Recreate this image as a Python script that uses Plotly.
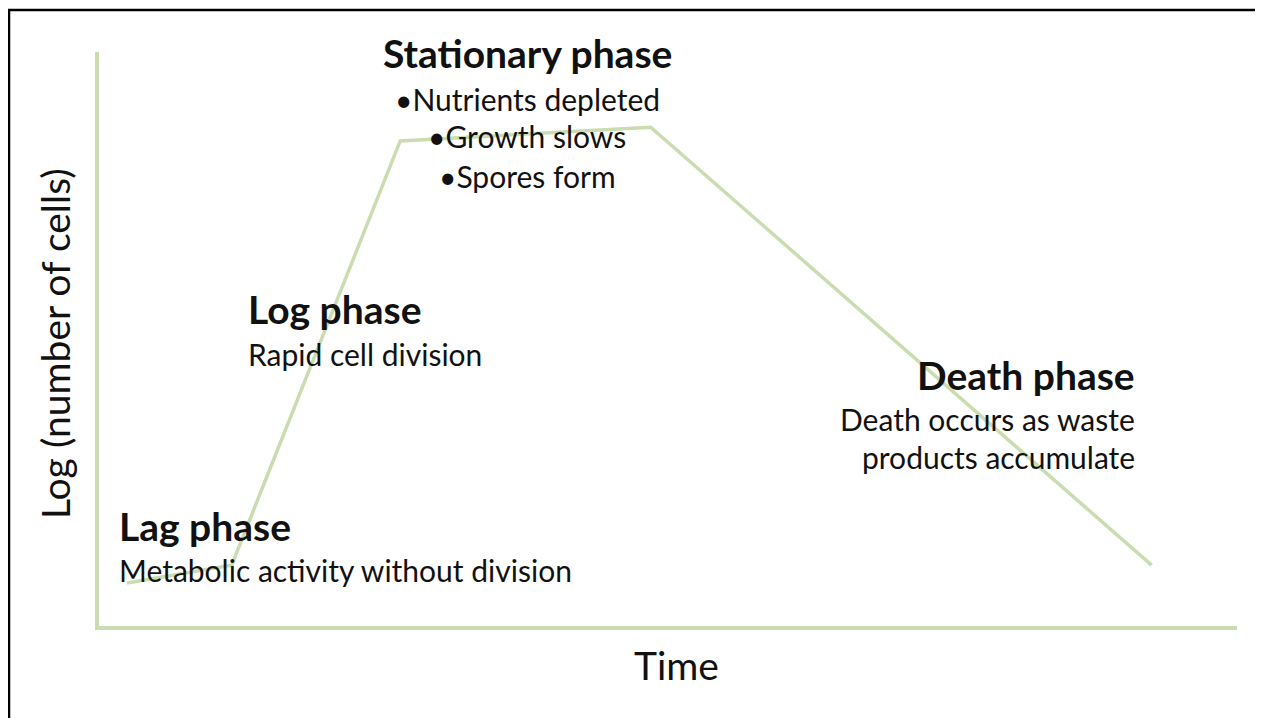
import plotly.graph_objects as go

# Growth curve (abstract units: time 0-100, log cells 0-100)
time_pts = [2.5, 11.7, 26.5, 48.5, 92.5]
log_cells = [7.5, 10.6, 84.5, 86.9, 10.6]

phase_titles = ["Lag phase", "Log phase", "Stationary phase", "Death phase"]
lag_desc = ["Metabolic activity without division"]
log_desc = ["Rapid cell division"]
stat_desc = ["•Nutrients depleted", "•Growth slows", "•Spores form"]
death_desc = ["Death occurs as waste", "products accumulate"]

OFF = 8  # page body margin
W, H = 1263 - OFF, 718 - OFF
GREEN = "#cadcb0"
FONT = "Lato, 'Open Sans', sans-serif"
TXT = "#111111"

def px(x):
    return (x - OFF) / W

def py(y):
    return 1 - (y - OFF) / H

fig = go.Figure()
fig.add_trace(go.Scatter(x=time_pts, y=log_cells, mode="lines",
                         line=dict(color=GREEN, width=3.5), hoverinfo="skip",
                         showlegend=False))

fig.update_layout(
    width=W, height=H,
    margin=dict(l=0, r=0, t=0, b=0),
    paper_bgcolor="white", plot_bgcolor="white",
    font=dict(family=FONT, color=TXT),
    xaxis=dict(domain=[px(98.5), px(1237)], range=[0, 100], showgrid=False,
               zeroline=False, showticklabels=False, ticks="",
               showline=True, linecolor=GREEN, linewidth=4, fixedrange=True),
    yaxis=dict(domain=[py(626), py(52)], range=[0, 100], showgrid=False,
               zeroline=False, showticklabels=False, ticks="",
               showline=True, linecolor=GREEN, linewidth=4, fixedrange=True),
)

# outer frame
fig.add_shape(type="rect", xref="paper", yref="paper",
              x0=px(9), x1=px(1261), y0=py(760), y1=py(10),
              line=dict(color="black", width=2.5), fillcolor="rgba(0,0,0,0)")

def ann(text, x, y, xanchor, size, bold=False):
    fig.add_annotation(text=f"<b>{text}</b>" if bold else text,
                       xref="paper", yref="paper", x=px(x), y=py(y),
                       xanchor=xanchor, yanchor="middle", showarrow=False,
                       font=dict(family=FONT, size=size, color=TXT))

TS, BS = 39, 30
# Stationary
ann(phase_titles[2], 527, 53, "center", TS, True)
for t, yy in zip(stat_desc, [99, 136, 176]):
    ann(t, 527, yy, "center", BS)
# Log
ann(phase_titles[1], 246, 309, "left", TS, True)
ann(log_desc[0], 246, 354, "left", BS)
# Death
ann(phase_titles[3], 1137, 375, "right", TS, True)
for t, yy in zip(death_desc, [419, 457]):
    ann(t, 1137, yy, "right", BS)
# Lag
ann(phase_titles[0], 117, 526, "left", TS, True)
ann(lag_desc[0], 117, 570, "left", BS)

# axis titles
ann("Time", 677, 665, "center", 39)
fig.add_annotation(text="Log (number of cells)", xref="paper", yref="paper",
                   x=px(55), y=py(344), xanchor="center", yanchor="middle",
                   textangle=-90, showarrow=False,
                   font=dict(family=FONT, size=39, color=TXT))

fig.write_html("out.html")
